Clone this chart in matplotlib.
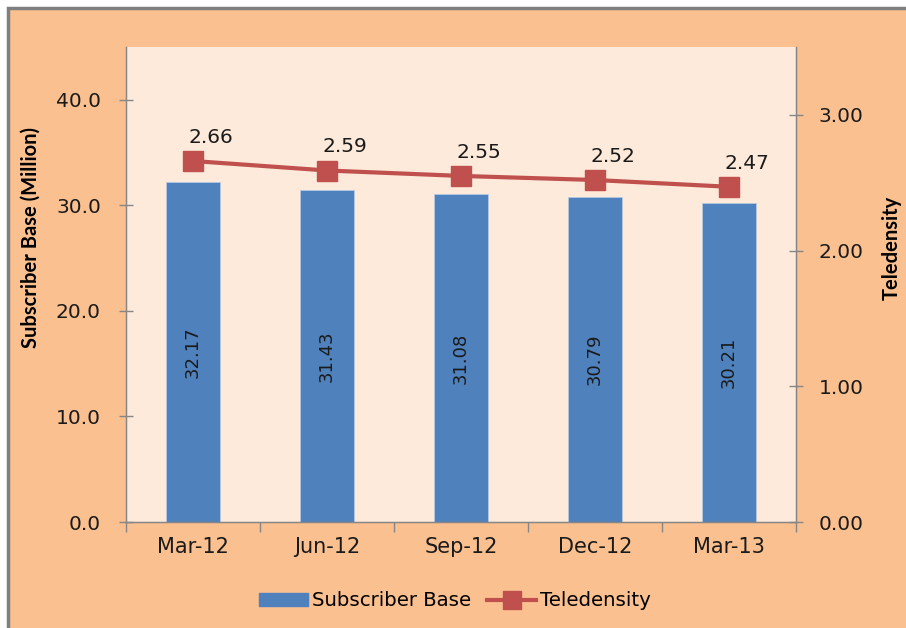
import matplotlib
matplotlib.use("Agg")
import matplotlib.pyplot as plt
from matplotlib.patches import Rectangle
from matplotlib.lines import Line2D
import numpy as np

categories = ["Mar-12", "Jun-12", "Sep-12", "Dec-12", "Mar-13"]
subscriber_base = [32.17, 31.43, 31.08, 30.79, 30.21]
teledensity = [2.66, 2.59, 2.55, 2.52, 2.47]
left_ticks = [0, 10, 20, 30, 40]
right_ticks = [0, 1, 2, 3]

BAR_C = "#4F81BD"
LINE_C = "#C0504D"
FIG_BG = "#FAC090"
PLOT_BG = "#FDEADA"
GRID_C = "#868686"

title_font = ["Lato", "DejaVu Sans"]
cat_font = ["DejaVu Sans"]
num_font = ["DejaVu Sans"]
TXT = "#1a1a1a"

W, H = 906, 628
fig = plt.figure(figsize=(W / 100, H / 100), dpi=100)
fig.patch.set_facecolor("white")
# peach chart area with gray border
fig.patches.append(Rectangle((8 / W, -0.1), 1.2, (H - 8) / H + 0.1, transform=fig.transFigure,
                             facecolor=FIG_BG, edgecolor="#7F7F7F", linewidth=2.5, zorder=-10))

ax = fig.add_axes([126 / W, (H - 522) / H, 670 / W, 475 / H])
ax.set_facecolor(PLOT_BG)
x = np.arange(len(categories))
ax.bar(x, subscriber_base, width=0.4, color=BAR_C, edgecolor="#B9CDE5", linewidth=0.5, zorder=2)
ax.set_xlim(-0.5, len(categories) - 0.5)
ax.set_ylim(0, 45)
ax.set_yticks(left_ticks)
ax.set_yticklabels([f"{v:.1f}" for v in left_ticks], fontsize=14.5, family=num_font, color=TXT)
ax.set_xticks(x)
ax.set_xticklabels(categories, fontsize=15, family=cat_font, color=TXT)
ax.tick_params(axis="x", length=0, pad=11)
ax.set_xticks(np.arange(-0.5, len(categories)), minor=True)
ax.tick_params(axis="x", which="minor", length=7, direction="out", color=GRID_C, width=1)
ax.tick_params(axis="y", length=10, direction="inout", color=GRID_C, width=1, pad=13)
ax.spines["top"].set_visible(False)
for s in ["left", "right", "bottom"]:
    ax.spines[s].set_color(GRID_C)
    ax.spines[s].set_linewidth(1)
ax.set_ylabel("Subscriber Base (Million)", fontsize=14.5, family=title_font, fontweight="bold", color="black")
ax.yaxis.set_label_coords(-0.128, 0.599)

for xi, v in zip(x, subscriber_base):
    ax.text(xi, v / 2, f"{v:.2f}", rotation=90, ha="center", va="center",
            fontsize=13, family=num_font, color=TXT, zorder=3)

ax2 = ax.twinx()
ax2.set_ylim(0, 3.5)
ax2.plot(x, teledensity, color=LINE_C, linewidth=3, marker="s", markersize=14.5,
         markerfacecolor=LINE_C, markeredgecolor=LINE_C, zorder=4)
ax2.set_yticks(right_ticks)
ax2.set_yticklabels([f"{v:.2f}" for v in right_ticks], fontsize=14.5, family=num_font, color=TXT)
ax2.tick_params(axis="y", length=10, direction="inout", color=GRID_C, width=1, pad=11.5)
ax2.spines["top"].set_visible(False)
for s in ["left", "right", "bottom"]:
    ax2.spines[s].set_color(GRID_C)
ax2.set_ylabel("Teledensity", fontsize=14.5, family=title_font, fontweight="bold", rotation=90, color="black")
ax2.yaxis.set_label_coords(1.128, 0.577)
for xi, v in zip(x, teledensity):
    ax2.annotate(f"{v:.2f}", (xi, v), xytext=(13, 17), textcoords="offset points",
                 ha="center", va="center", fontsize=14.5, family=num_font, color=TXT)

handles = [Rectangle((0, 0), 1, 1, color=BAR_C),
           Line2D([0], [0], color=LINE_C, linewidth=3, marker="s", markersize=12.5)]
fig.legend(handles, ["Subscriber Base", "Teledensity"], loc="center", bbox_to_anchor=(455 / W, 1 - 601 / H),
           ncol=2, frameon=False, prop={"family": cat_font, "size": 14.2}, handlelength=2.5,
           handleheight=0.6, handletextpad=0.2, columnspacing=0.8)

fig.savefig("out.png", dpi=100, facecolor=fig.get_facecolor())
